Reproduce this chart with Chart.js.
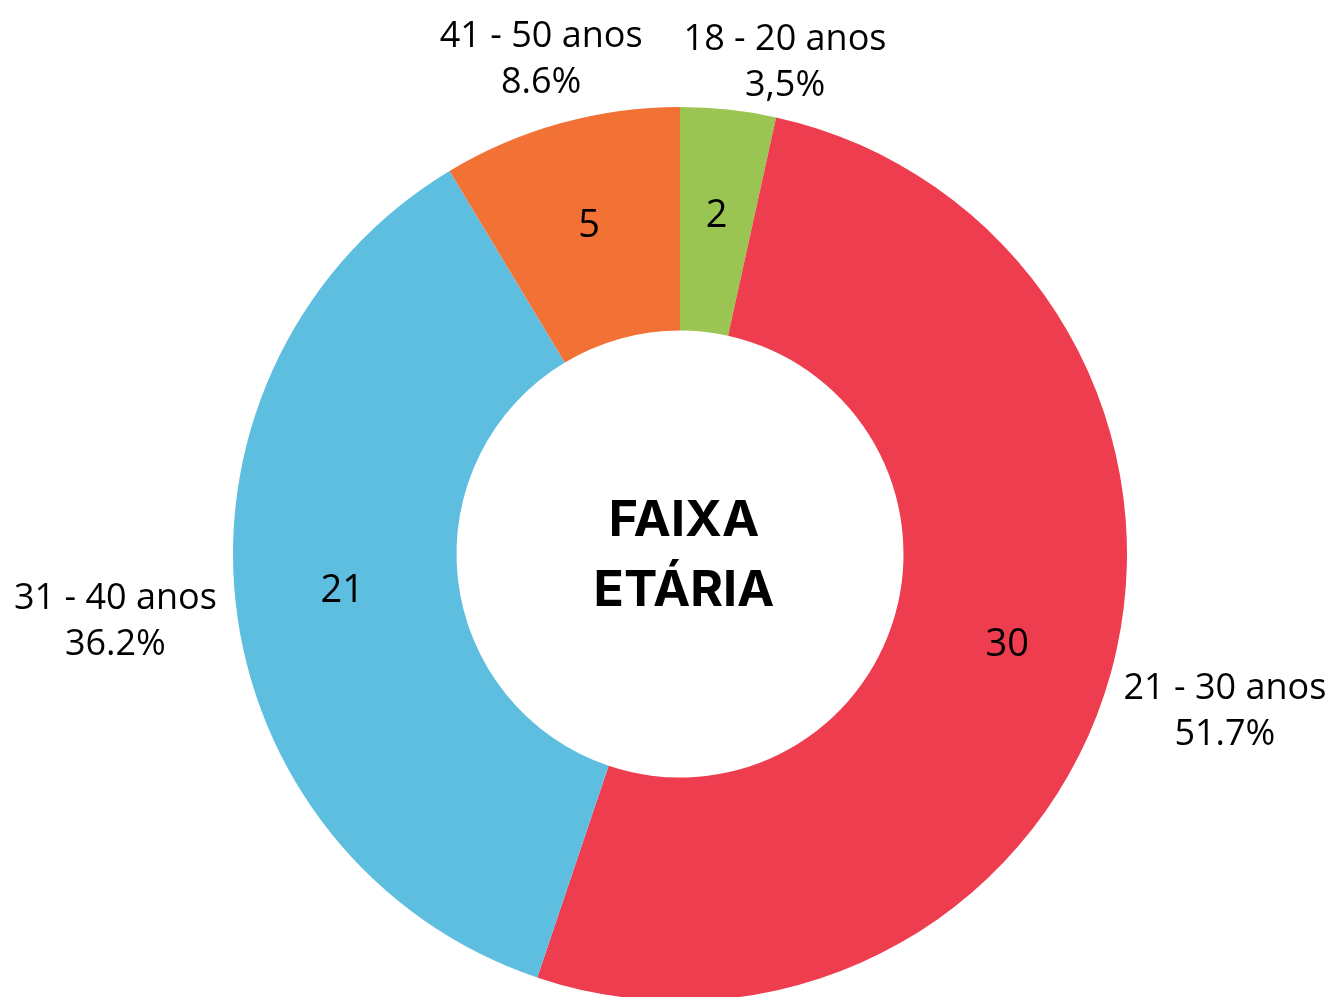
<!DOCTYPE html>
<html>
<head>
<meta charset="utf-8">
<script src="https://cdn.jsdelivr.net/npm/chart.js@4.4.1/dist/chart.umd.min.js"></script>
<style>
  html, body { margin: 0; padding: 0; background: #fff; overflow: hidden; }
  #wrap { position: relative; width: 1339px; height: 1100px; }
</style>
</head>
<body>
<div id="wrap"><canvas id="grafico"></canvas></div>
<script>
// --- DATOS ---
const faixas = ['18 - 20 anos', '21 - 30 anos', '31 - 40 anos', '41 - 50 anos'];
const quantidades = [2, 30, 21, 5];
const percentuais = ['3,5%', '51.7%', '36.2%', '8.6%'];
const cores = ['#9BC553', '#EE3D4F', '#5EBEDF', '#F27236'];
const tituloCentro = ['FAIXA', 'ETÁRIA'];

const FONTE = '"Open Sans", "Noto Sans", sans-serif';

// plugin para etiquetas internas, externas e texto central
const etiquetasPlugin = {
  id: 'etiquetas',
  afterDatasetsDraw(chart) {
    const ctx = chart.ctx;
    const arcs = chart.getDatasetMeta(0).data;
    ctx.save();
    ctx.fillStyle = '#000';
    ctx.textAlign = 'center';
    ctx.textBaseline = 'middle';

    // valores dentro dos segmentos
    ctx.font = '38px ' + FONTE;
    arcs.forEach((arc, i) => {
      const p = arc.getProps(['x', 'y', 'startAngle', 'endAngle', 'innerRadius', 'outerRadius'], true);
      const ang = (p.startAngle + p.endAngle) / 2;
      const r = p.innerRadius + (p.outerRadius - p.innerRadius) * 0.52;
      ctx.fillText(String(quantidades[i]), p.x + Math.cos(ang) * r, p.y + Math.sin(ang) * r);
    });

    // etiquetas externas: centro sobre o raio médio do segmento
    ctx.font = '36px ' + FONTE;
    const alturaLinha = 46;
    const distancia = (R, dx, dy, w, h) =>
      R + 20 + Math.sqrt(Math.pow(dx * w / 2, 2) + Math.pow(dy * h / 2, 2));
    const caixas = arcs.map((arc, i) => {
      const p = arc.getProps(['x', 'y', 'startAngle', 'endAngle', 'outerRadius'], true);
      const ang = (p.startAngle + p.endAngle) / 2;
      const dx = Math.cos(ang), dy = Math.sin(ang);
      const w = Math.max(ctx.measureText(faixas[i]).width, ctx.measureText(percentuais[i]).width);
      const h = alturaLinha * 2;
      const r = distancia(p.outerRadius, dx, dy, w, h);
      return { i, ox: p.x, oy: p.y, R: p.outerRadius, cx: p.x + dx * r, cy: p.y + dy * r, w, h };
    });
    // evitar sobreposição horizontal
    for (let a = 0; a < caixas.length; a++) {
      for (let b = 0; b < caixas.length; b++) {
        if (a === b) continue;
        const A = caixas[a], B = caixas[b];
        if (Math.abs(A.cy - B.cy) < (A.h + B.h) / 2 && A.cx <= B.cx) {
          const gap = (B.cx - B.w / 2) - (A.cx + A.w / 2);
          if (gap < 41) {
            B.cx += 41 - gap;
            // reajusta a altura mantendo a distância ao centro
            const vx = B.cx - B.ox;
            const sign = B.cy < B.oy ? -1 : 1;
            let vy = Math.abs(B.cy - B.oy);
            for (let k = 0; k < 5; k++) {
              const len = Math.hypot(vx, vy);
              const r = distancia(B.R, vx / len, vy / len, B.w, B.h) - 8;
              vy = Math.sqrt(Math.max(r * r - vx * vx, 0));
            }
            B.cy = B.oy + sign * vy;
          }
        }
      }
    }
    const ajusteY = 6;
    caixas.forEach(c => {
      ctx.fillText(faixas[c.i], c.cx, c.cy + ajusteY - alturaLinha / 2);
      ctx.fillText(percentuais[c.i], c.cx, c.cy + ajusteY + alturaLinha / 2);
    });

    // texto central
    const area = chart.chartArea;
    const cx = (area.left + area.right) / 2;
    const cy = (area.top + area.bottom) / 2;
    ctx.font = 'bold 50px Inter, "DejaVu Sans", sans-serif';
    ctx.fillText(tituloCentro[0], cx + 4, cy - 33);
    ctx.fillText(tituloCentro[1], cx + 4, cy + 37);
    ctx.restore();
  }
};

new Chart(document.getElementById('grafico').getContext('2d'), {
  type: 'doughnut',
  data: {
    labels: faixas,
    datasets: [{
      data: quantidades,
      backgroundColor: cores,
      borderWidth: 0,
      hoverOffset: 0
    }]
  },
  options: {
    responsive: true,
    maintainAspectRatio: false,
    animation: false,
    cutout: '50%',
    layout: { padding: { top: 107, bottom: 99, left: 233, right: 212 } },
    plugins: {
      legend: { display: false },
      tooltip: { enabled: false }
    }
  },
  plugins: [etiquetasPlugin]
});
</script>
</body>
</html>
